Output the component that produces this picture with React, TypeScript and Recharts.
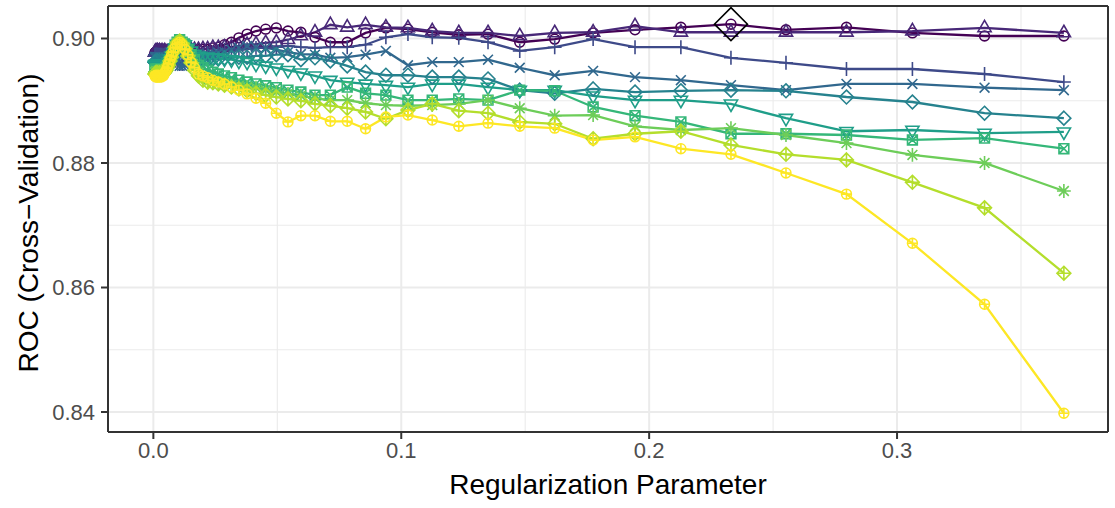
import React from 'react';
import { ComposedChart, Line, XAxis, YAxis, CartesianGrid, Label } from 'recharts';

// Regularization parameter (lambda) grid, largest to smallest
const lambdas = [
  0.3673, 0.3353, 0.3062, 0.2796, 0.2552, 0.2330, 0.2128, 0.1943, 0.1774, 0.1619,
  0.1478, 0.1350, 0.1232, 0.1125, 0.1027, 0.0938, 0.0856, 0.0782, 0.0714, 0.0652,
  0.0595, 0.0543, 0.0496, 0.0453, 0.0414, 0.0378, 0.0345, 0.0315, 0.0287, 0.0262,
  0.0240, 0.0219, 0.0200, 0.0182, 0.0166, 0.0152, 0.0139, 0.0127, 0.0116, 0.0106,
  0.0096, 0.0088, 0.0080, 0.0073, 0.0067, 0.0061, 0.0056, 0.0051, 0.0046, 0.0042,
  0.0039, 0.0035, 0.0032, 0.0029, 0.0027, 0.0025, 0.0022, 0.0020, 0.0019, 0.0017,
  0.00155, 0.00142, 0.00129, 0.00118, 0.00108, 0.00098, 0.0009, 0.00082, 0.00075, 0.00068,
];

// Cross-validated ROC for each mixing value (alpha), one entry per lambda
const rocAlpha1 = [
  0.9004, 0.9004, 0.9009, 0.9018, 0.9014, 0.9023, 0.9018, 0.9014, 0.9009, 0.8999,
  0.8994, 0.9007, 0.9006, 0.9010, 0.9015, 0.9017, 0.9009, 0.8994, 0.8994, 0.9002,
  0.9010, 0.9012, 0.9017, 0.9015, 0.9012, 0.9007, 0.9001, 0.8994, 0.8990, 0.8986,
  0.8985, 0.8983, 0.8983, 0.8982, 0.8982, 0.8980, 0.8980, 0.8980, 0.8982, 0.8980,
  0.8980, 0.8978, 0.8978, 0.8980, 0.8978, 0.8978, 0.8978, 0.8977, 0.8978, 0.8978,
  0.8977, 0.8978, 0.8978, 0.8977, 0.8978, 0.8977, 0.8978, 0.8977, 0.8977, 0.8978,
  0.8977, 0.8977, 0.8978, 0.8977, 0.8977, 0.8977, 0.8978, 0.8977, 0.8977, 0.8977,
];
const rocAlpha2 = [
  0.9009, 0.9017, 0.9012, 0.9010, 0.9010, 0.9010, 0.9010, 0.9020, 0.9010, 0.9009,
  0.9004, 0.9009, 0.9009, 0.9012, 0.9017, 0.9018, 0.9022, 0.9018, 0.9022, 0.9010,
  0.9004, 0.8998, 0.8994, 0.8993, 0.8991, 0.8990, 0.8988, 0.8986, 0.8986, 0.8985,
  0.8985, 0.8983, 0.8983, 0.8982, 0.8982, 0.8982, 0.8980, 0.8980, 0.8978, 0.8978,
  0.8980, 0.8980, 0.8978, 0.8978, 0.8980, 0.8978, 0.8978, 0.8978, 0.8980, 0.8978,
  0.8978, 0.8980, 0.8978, 0.8978, 0.8978, 0.8980, 0.8978, 0.8978, 0.8978, 0.8980,
  0.8978, 0.8978, 0.8978, 0.8978, 0.8980, 0.8978, 0.8978, 0.8978, 0.8978, 0.8978,
];
const rocAlpha3 = [
  0.8930, 0.8943, 0.8951, 0.8951, 0.8961, 0.8969, 0.8986, 0.8986, 0.8999, 0.8986,
  0.8980, 0.8994, 0.9001, 0.9002, 0.9007, 0.9002, 0.8990, 0.8986, 0.8986, 0.8985,
  0.8986, 0.8988, 0.8986, 0.8985, 0.8985, 0.8983, 0.8983, 0.8982, 0.8982, 0.8980,
  0.8978, 0.8977, 0.8975, 0.8974, 0.8970, 0.8967, 0.8964, 0.8961, 0.8959, 0.8959,
  0.8961, 0.8964, 0.8967, 0.8970, 0.8972, 0.8974, 0.8974, 0.8972, 0.8974, 0.8972,
  0.8974, 0.8972, 0.8974, 0.8974, 0.8972, 0.8974, 0.8972, 0.8974, 0.8974, 0.8972,
  0.8974, 0.8974, 0.8972, 0.8974, 0.8974, 0.8974, 0.8972, 0.8974, 0.8974, 0.8974,
];
const rocAlpha4 = [
  0.8917, 0.8921, 0.8927, 0.8927, 0.8917, 0.8925, 0.8933, 0.8938, 0.8948, 0.8941,
  0.8953, 0.8966, 0.8962, 0.8962, 0.8957, 0.8980, 0.8974, 0.8970, 0.8969, 0.8974,
  0.8975, 0.8978, 0.8982, 0.8985, 0.8986, 0.8988, 0.8985, 0.8982, 0.8978, 0.8977,
  0.8975, 0.8974, 0.8972, 0.8970, 0.8967, 0.8964, 0.8961, 0.8957, 0.8956, 0.8956,
  0.8959, 0.8962, 0.8966, 0.8969, 0.8970, 0.8970, 0.8969, 0.8970, 0.8970, 0.8969,
  0.8970, 0.8970, 0.8969, 0.8970, 0.8970, 0.8969, 0.8970, 0.8970, 0.8969, 0.8970,
  0.8970, 0.8970, 0.8969, 0.8970, 0.8970, 0.8969, 0.8970, 0.8970, 0.8970, 0.8970,
];
const rocAlpha5 = [
  0.8872, 0.8880, 0.8898, 0.8906, 0.8916, 0.8917, 0.8916, 0.8914, 0.8919, 0.8912,
  0.8917, 0.8935, 0.8938, 0.8938, 0.8941, 0.8941, 0.8946, 0.8956, 0.8964, 0.8969,
  0.8966, 0.8974, 0.8974, 0.8972, 0.8972, 0.8970, 0.8970, 0.8969, 0.8969, 0.8967,
  0.8967, 0.8966, 0.8966, 0.8966, 0.8966, 0.8969, 0.8974, 0.8978, 0.8982, 0.8982,
  0.8978, 0.8974, 0.8969, 0.8966, 0.8964, 0.8962, 0.8962, 0.8964, 0.8962, 0.8962,
  0.8962, 0.8964, 0.8962, 0.8962, 0.8962, 0.8964, 0.8962, 0.8962, 0.8962, 0.8964,
  0.8962, 0.8962, 0.8962, 0.8962, 0.8964, 0.8962, 0.8962, 0.8962, 0.8962, 0.8962,
];
const rocAlpha6 = [
  0.8850, 0.8848, 0.8853, 0.8851, 0.8872, 0.8895, 0.8901, 0.8901, 0.8908, 0.8917,
  0.8917, 0.8922, 0.8927, 0.8927, 0.8922, 0.8925, 0.8927, 0.8930, 0.8933, 0.8940,
  0.8945, 0.8949, 0.8953, 0.8956, 0.8959, 0.8962, 0.8964, 0.8966, 0.8967, 0.8969,
  0.8969, 0.8970, 0.8970, 0.8972, 0.8975, 0.8980, 0.8985, 0.8990, 0.8993, 0.8994,
  0.8991, 0.8985, 0.8978, 0.8972, 0.8967, 0.8962, 0.8959, 0.8957, 0.8957, 0.8959,
  0.8957, 0.8957, 0.8959, 0.8957, 0.8957, 0.8957, 0.8959, 0.8957, 0.8957, 0.8957,
  0.8959, 0.8957, 0.8957, 0.8957, 0.8957, 0.8959, 0.8957, 0.8957, 0.8957, 0.8957,
];
const rocAlpha7 = [
  0.8823, 0.8840, 0.8837, 0.8845, 0.8847, 0.8847, 0.8866, 0.8876, 0.8890, 0.8916,
  0.8917, 0.8901, 0.8903, 0.8901, 0.8901, 0.8909, 0.8912, 0.8922, 0.8909, 0.8909,
  0.8914, 0.8917, 0.8921, 0.8924, 0.8927, 0.8930, 0.8933, 0.8937, 0.8940, 0.8943,
  0.8946, 0.8949, 0.8953, 0.8957, 0.8966, 0.8974, 0.8982, 0.8990, 0.8994, 0.8998,
  0.8994, 0.8988, 0.8980, 0.8972, 0.8966, 0.8961, 0.8956, 0.8953, 0.8951, 0.8949,
  0.8949, 0.8951, 0.8949, 0.8949, 0.8949, 0.8951, 0.8949, 0.8949, 0.8949, 0.8949,
  0.8951, 0.8949, 0.8949, 0.8949, 0.8949, 0.8951, 0.8949, 0.8949, 0.8949, 0.8949,
];
const rocAlpha8 = [
  0.8755, 0.8800, 0.8813, 0.8832, 0.8845, 0.8856, 0.8853, 0.8859, 0.8877, 0.8876,
  0.8888, 0.8901, 0.8895, 0.8893, 0.8892, 0.8893, 0.8896, 0.8901, 0.8901, 0.8904,
  0.8908, 0.8911, 0.8914, 0.8917, 0.8921, 0.8922, 0.8924, 0.8925, 0.8927, 0.8929,
  0.8930, 0.8933, 0.8938, 0.8945, 0.8954, 0.8966, 0.8977, 0.8986, 0.8993, 0.8996,
  0.8993, 0.8986, 0.8978, 0.8970, 0.8964, 0.8959, 0.8954, 0.8951, 0.8949, 0.8948,
  0.8946, 0.8948, 0.8946, 0.8946, 0.8948, 0.8946, 0.8946, 0.8946, 0.8948, 0.8946,
  0.8946, 0.8946, 0.8946, 0.8948, 0.8946, 0.8946, 0.8946, 0.8946, 0.8946, 0.8946,
];
const rocAlpha9 = [
  0.8623, 0.8728, 0.8769, 0.8805, 0.8814, 0.8829, 0.8851, 0.8847, 0.8839, 0.8863,
  0.8866, 0.8880, 0.8884, 0.8895, 0.8885, 0.8871, 0.8882, 0.8888, 0.8892, 0.8895,
  0.8900, 0.8903, 0.8906, 0.8909, 0.8912, 0.8916, 0.8919, 0.8922, 0.8925, 0.8927,
  0.8929, 0.8930, 0.8933, 0.8940, 0.8949, 0.8961, 0.8972, 0.8983, 0.8991, 0.8996,
  0.8993, 0.8986, 0.8978, 0.8970, 0.8964, 0.8957, 0.8953, 0.8949, 0.8946, 0.8945,
  0.8943, 0.8945, 0.8943, 0.8943, 0.8943, 0.8945, 0.8943, 0.8943, 0.8943, 0.8943,
  0.8945, 0.8943, 0.8943, 0.8943, 0.8943, 0.8945, 0.8943, 0.8943, 0.8943, 0.8943,
];
const rocAlpha10 = [
  0.8398, 0.8573, 0.8671, 0.8750, 0.8784, 0.8814, 0.8823, 0.8842, 0.8837, 0.8856,
  0.8859, 0.8864, 0.8859, 0.8869, 0.8877, 0.8874, 0.8855, 0.8867, 0.8867, 0.8876,
  0.8876, 0.8866, 0.8880, 0.8896, 0.8904, 0.8911, 0.8917, 0.8922, 0.8927, 0.8930,
  0.8933, 0.8937, 0.8940, 0.8943, 0.8953, 0.8962, 0.8974, 0.8983, 0.8990, 0.8994,
  0.8991, 0.8985, 0.8978, 0.8972, 0.8966, 0.8959, 0.8953, 0.8948, 0.8945, 0.8941,
  0.8940, 0.8941, 0.8938, 0.8940, 0.8940, 0.8938, 0.8940, 0.8941, 0.8938, 0.8940,
  0.8940, 0.8938, 0.8940, 0.8940, 0.8941, 0.8938, 0.8940, 0.8940, 0.8940, 0.8940,
];

const rocSeries = [
  rocAlpha1, rocAlpha2, rocAlpha3, rocAlpha4, rocAlpha5,
  rocAlpha6, rocAlpha7, rocAlpha8, rocAlpha9, rocAlpha10,
];

// viridis palette, one colour per alpha
const seriesColors = [
  '#440154', '#482878', '#3E4A89', '#31688E', '#26828E',
  '#1F9E89', '#35B779', '#6DCD59', '#B4DE2C', '#FDE725',
];

// plotting symbols 1..10
const seriesShapes = [
  'circle', 'triangle', 'plus', 'cross', 'diamond',
  'triangleDown', 'squareCross', 'asterisk', 'diamondPlus', 'circlePlus',
];

const xTicks = [0, 0.1, 0.2, 0.3];
const xMinor = [0.05, 0.15, 0.25, 0.35];
const yTicks = [0.84, 0.86, 0.88, 0.9];
const yMinor = [0.85, 0.87, 0.89];

const X_DOMAIN: [number, number] = [-0.0183, 0.3851];
const Y_DOMAIN: [number, number] = [0.83679, 0.90522];

const FONT = '"Liberation Sans", Arial, Helvetica, sans-serif';

// best tuning result (highest ROC)
const best = (() => {
  let s = 0;
  let i = 0;
  let v = -Infinity;
  rocSeries.forEach((arr, si) =>
    arr.forEach((val, li) => {
      if (val > v) {
        v = val;
        s = si;
        i = li;
      }
    })
  );
  return { s, i, v };
})();

const rows = lambdas.map((lambda, i) => {
  const row: Record<string, number | undefined> = { lambda };
  rocSeries.forEach((arr, k) => {
    row[`a${k}`] = arr[i];
  });
  row.best = i === best.i ? best.v : undefined;
  return row;
});

const R = 4.9;
const SW = 1.6;
const S2 = Math.SQRT2;

function Marker({ shape, x, y, color }: { shape: string; x: number; y: number; color: string }) {
  const common = { fill: 'none', stroke: color, strokeWidth: SW };
  const plus = (h: number) => `M${x - h},${y}H${x + h}M${x},${y - h}V${y + h}`;
  const cross = (h: number) => `M${x - h},${y - h}L${x + h},${y + h}M${x - h},${y + h}L${x + h},${y - h}`;
  const diamond = (h: number) => `M${x},${y - h}L${x + h},${y}L${x},${y + h}L${x - h},${y}Z`;
  const top = 1.5551 * R;
  const base = 0.7776 * R;
  const half = 1.3468 * R;
  switch (shape) {
    case 'circle':
      return <circle cx={x} cy={y} r={R} {...common} />;
    case 'triangle':
      return <path d={`M${x},${y - top}L${x + half},${y + base}L${x - half},${y + base}Z`} {...common} />;
    case 'triangleDown':
      return <path d={`M${x},${y + top}L${x + half},${y - base}L${x - half},${y - base}Z`} {...common} />;
    case 'plus':
      return <path d={plus(S2 * R)} {...common} />;
    case 'cross':
      return <path d={cross(R)} {...common} />;
    case 'diamond':
      return <path d={diamond(S2 * R)} {...common} />;
    case 'squareCross':
      return <path d={`M${x - R},${y - R}H${x + R}V${y + R}H${x - R}Z` + cross(R)} {...common} />;
    case 'asterisk':
      return <path d={cross(R) + plus(S2 * R)} {...common} />;
    case 'diamondPlus':
      return <path d={diamond(S2 * R) + plus(S2 * R)} {...common} />;
    case 'circlePlus':
      return (
        <g>
          <circle cx={x} cy={y} r={R} {...common} />
          <path d={plus(R)} {...common} />
        </g>
      );
    default:
      return null;
  }
}

const makeDot = (shape: string, color: string) => (p: any) => {
  const key = `${shape}-${p.index}`;
  if (p.cx == null || p.cy == null || p.value == null) return <g key={key} />;
  return (
    <g key={key}>
      <Marker shape={shape} x={p.cx} y={p.cy} color={color} />
    </g>
  );
};

const bestDot = (p: any) => {
  const key = `best-${p.index}`;
  if (p.cx == null || p.cy == null || p.value == null) return <g key={key} />;
  const h = 16.5;
  const { cx, cy } = p;
  return (
    <path
      key={key}
      d={`M${cx},${cy - h}L${cx + h},${cy}L${cx},${cy + h}L${cx - h},${cy}Z`}
      fill="none"
      stroke="#000000"
      strokeWidth={1.6}
    />
  );
};

const XTitle = (props: any) => {
  const vb = props.viewBox || { x: 108, y: 432, width: 1000, height: 76 };
  return (
    <text
      x={vb.x + vb.width / 2}
      y={vb.y + 62}
      textAnchor="middle"
      fontSize={28}
      fill="#000000"
      fontFamily={FONT}
    >
      Regularization Parameter
    </text>
  );
};

const YTitle = (props: any) => {
  const vb = props.viewBox || { x: 0, y: 6, width: 108, height: 426 };
  const cx = vb.x + 28;
  const cy = vb.y + vb.height / 2 + 4;
  return (
    <text
      x={cx}
      y={cy}
      dy="0.355em"
      transform={`rotate(-90, ${cx}, ${cy})`}
      textAnchor="middle"
      fontSize={28}
      fill="#000000"
      fontFamily={FONT}
    >
      ROC (Cross−Validation)
    </text>
  );
};

export default function App() {
  return (
    <div style={{ position: 'absolute', left: 0, top: 0, width: 1115, height: 508, background: '#ffffff' }}>
      <ComposedChart
        width={1115}
        height={508}
        data={rows}
        margin={{ top: 6, right: 7, bottom: 0, left: 0 }}
        style={{ fontFamily: FONT }}
      >
        <CartesianGrid verticalValues={xMinor} horizontalValues={yMinor} stroke="#EBEBEB" strokeWidth={1.1} />
        <CartesianGrid verticalValues={xTicks} horizontalValues={yTicks} stroke="#EBEBEB" strokeWidth={2} />
        <CartesianGrid verticalValues={X_DOMAIN} horizontalValues={Y_DOMAIN} stroke="#333333" strokeWidth={2} />
        <XAxis
          type="number"
          dataKey="lambda"
          domain={X_DOMAIN}
          allowDataOverflow
          ticks={xTicks}
          interval={0}
          tickFormatter={(v: number) => v.toFixed(1)}
          height={76}
          axisLine={false}
          tickLine={{ stroke: '#333333', strokeWidth: 2 }}
          tickSize={7}
          tickMargin={3}
          tick={{ fill: '#4D4D4D', fontSize: 22, fontFamily: FONT }}
        >
          <Label content={XTitle} />
        </XAxis>
        <YAxis
          type="number"
          domain={Y_DOMAIN}
          allowDataOverflow
          ticks={yTicks}
          interval={0}
          tickFormatter={(v: number) => v.toFixed(2)}
          width={108}
          axisLine={false}
          tickLine={{ stroke: '#333333', strokeWidth: 2 }}
          tickSize={7}
          tickMargin={6}
          tick={{ fill: '#4D4D4D', fontSize: 22, fontFamily: FONT }}
        >
          <Label content={YTitle} />
        </YAxis>

        {/* symbols for every alpha */}
        {rocSeries.map((_, k) => (
          <Line
            key={`pts-${k}`}
            dataKey={`a${k}`}
            stroke="none"
            dot={makeDot(seriesShapes[k], seriesColors[k])}
            activeDot={false}
            legendType="none"
            isAnimationActive={false}
          />
        ))}

        {/* connecting paths */}
        {rocSeries.map((_, k) => (
          <Line
            key={`path-${k}`}
            dataKey={`a${k}`}
            stroke={seriesColors[k]}
            strokeWidth={2.3}
            dot={false}
            activeDot={false}
            legendType="none"
            isAnimationActive={false}
          />
        ))}

        {/* highlighted optimum */}
        <Line
          dataKey="best"
          stroke="none"
          dot={bestDot}
          activeDot={false}
          legendType="none"
          isAnimationActive={false}
        />
      </ComposedChart>
    </div>
  );
}
